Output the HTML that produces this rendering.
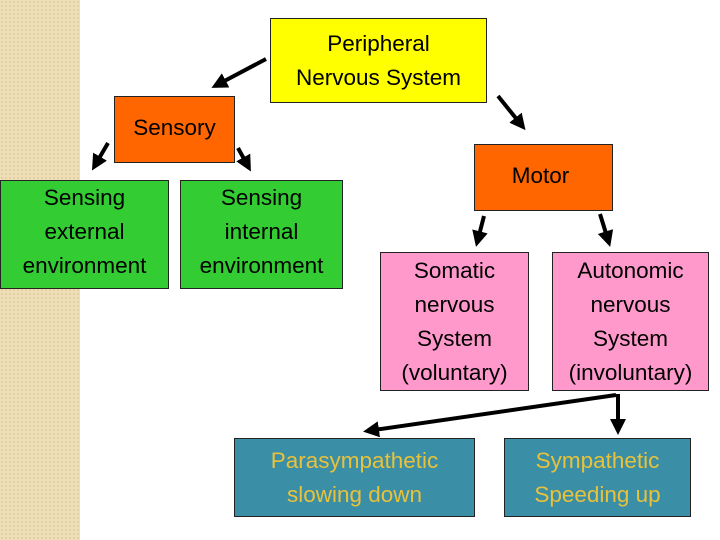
<!DOCTYPE html>
<html><head><style>
body{margin:0;width:720px;height:540px;background:#fff;position:relative;overflow:hidden;font-family:"Liberation Sans",sans-serif}
.stripe{position:absolute;left:0;top:0;width:80px;height:540px;background:#EEDFB8;background-image:radial-gradient(#E2CFA0 1px,transparent 1.2px);background-size:4px 4px}
.b{position:absolute;box-sizing:border-box;border:1px solid #222;display:flex;align-items:center;justify-content:center;text-align:center;font-size:22.5px;line-height:34px;color:#000}
</style></head><body>
<div class="stripe"></div>
<div class="b" style="left:270px;top:18px;width:217px;height:85px;background:#FFFF00">Peripheral<br>Nervous System</div>
<div class="b" style="left:114px;top:96px;width:121px;height:67px;background:#FF6600;padding-bottom:4px">Sensory</div>
<div class="b" style="left:0;top:180px;width:169px;height:109px;background:#33CC33;padding-bottom:6px">Sensing<br>external<br>environment</div>
<div class="b" style="left:180px;top:180px;width:163px;height:109px;background:#33CC33;padding-bottom:6px">Sensing<br>internal<br>environment</div>
<div class="b" style="left:474px;top:144px;width:139px;height:67px;background:#FF6600;padding-bottom:4px;padding-right:6px">Motor</div>
<div class="b" style="left:380px;top:252px;width:149px;height:139px;background:#FF99CC">Somatic<br>nervous<br>System<br>(voluntary)</div>
<div class="b" style="left:552px;top:252px;width:157px;height:139px;background:#FF99CC">Autonomic<br>nervous<br>System<br>(involuntary)</div>
<div class="b" style="left:234px;top:438px;width:241px;height:79px;background:#3A8EA6;color:#E8C23A">Parasympathetic<br>slowing down</div>
<div class="b" style="left:504px;top:438px;width:187px;height:79px;background:#3A8EA6;color:#E8C23A">Sympathetic<br>Speeding up</div>
<svg width="720" height="540" style="position:absolute;left:0;top:0">
<defs><marker id="a" markerWidth="4" markerHeight="4" refX="3" refY="2" orient="auto"><path d="M0,0L4,2L0,4z" fill="#000"/></marker></defs>
<g stroke="#000" stroke-width="4" marker-end="url(#a)">
<line x1="266" y1="59" x2="215" y2="86"/>
<line x1="498" y1="96" x2="523" y2="127"/>
<line x1="108" y1="143" x2="94" y2="167"/>
<line x1="238" y1="148" x2="249" y2="168"/>
<line x1="484" y1="216" x2="477" y2="243"/>
<line x1="600" y1="214" x2="609" y2="243"/>
<line x1="616" y1="395" x2="367" y2="431"/>
<line x1="618" y1="394" x2="618" y2="431"/>
</g></svg>
</body></html>
